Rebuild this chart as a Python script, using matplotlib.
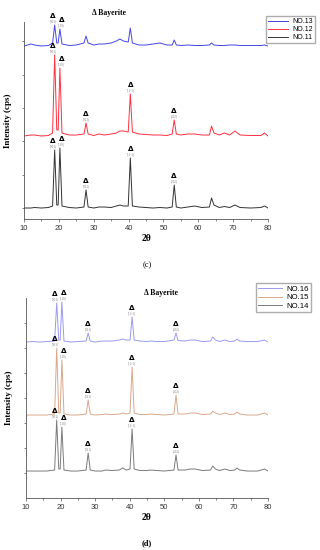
import numpy as np
import matplotlib.pyplot as plt

# --- panel (c) data: 2theta grid and intensities above each trace's own baseline ---
tt_c = [10, 12, 13, 15, 17, 18.2, 18.8, 19.4, 19.8, 20.3, 20.9, 23, 25, 27.2, 27.8, 28.4,
        30, 31.5, 33, 35, 36.5, 37.5, 38.5, 39.9, 40.5, 41.1, 43, 45, 47, 49, 51, 52.5,
        53.1, 53.7, 55, 57, 59, 61, 63.2, 63.8, 64.5, 66, 67.5, 69, 70.5, 72, 75, 78, 79, 80]
no11 = [0, 0, 15, 0, 15, 60, 1740, 90, 90, 1800, 60, 15, 0, 30, 540, 30, 0, 30, 30, 15,
        60, 90, 60, 60, 1500, 60, 30, 15, 0, 15, 0, 30, 690, 30, 0, 30, 60, 15, 30, 300,
        90, 15, 45, 15, 90, 15, 0, 15, 60, 0]
no12 = [0, 30, 30, 0, 15, 90, 2430, 180, 180, 2040, 90, 30, 30, 60, 390, 60, 15, 60, 30, 60,
        90, 150, 150, 120, 1260, 120, 60, 45, 30, 30, 15, 60, 480, 60, 30, 60, 60, 30, 30, 300,
        90, 30, 90, 30, 150, 30, 15, 15, 90, 0]
no13 = [0, 60, 30, 0, 15, 90, 630, 90, 90, 510, 60, 15, 30, 90, 300, 90, 30, 60, 60, 90,
        150, 210, 150, 120, 540, 90, 30, 30, 60, 90, 30, 30, 180, 30, 15, 30, 15, 15, 30, 90,
        30, 15, 15, 30, 30, 15, 15, 15, 30, 0]
base_c = {"NO.13": 4860, "NO.12": 2160, "NO.11": 0}

# --- panel (d) data ---
tt_d = [10, 12, 14, 16, 18.3, 18.9, 19.5, 19.9, 20.4, 21.0, 23, 25, 27.4, 28.0, 28.6, 30,
        32, 33, 35, 37, 38, 39, 40.1, 40.7, 41.3, 43, 45, 46, 48, 50, 52.8, 53.4, 54.0,
        56, 57.5, 59, 61, 63.4, 64.0, 64.8, 66, 67.5, 69, 70.4, 71.0, 71.8, 74, 77, 79, 80]
no14 = [0, 0, 0, 0, 40, 2040, 80, 80, 1760, 40, 0, 0, 40, 720, 40, 0, 0, 40, 20, 40,
        120, 40, 80, 1680, 80, 20, 20, 40, 20, 0, 40, 640, 40, 40, 80, 80, 20, 40, 200, 80,
        20, 80, 20, 40, 120, 40, 0, 0, 80, 0]
no15 = [0, 0, 0, 0, 40, 2680, 80, 80, 2200, 40, 0, 0, 40, 600, 40, 0, 20, 40, 20, 40,
        80, 40, 80, 1920, 80, 20, 20, 40, 20, 0, 40, 800, 40, 40, 80, 80, 20, 40, 160, 80,
        20, 80, 20, 40, 120, 40, 0, 0, 80, 0]
no16 = [0, 20, 0, 20, 40, 1560, 80, 80, 1600, 40, 0, 20, 40, 360, 40, 0, 40, 40, 40, 80,
        120, 80, 80, 1000, 80, 40, 20, 40, 20, 20, 80, 360, 60, 40, 80, 80, 20, 40, 200, 80,
        20, 80, 20, 40, 120, 40, 20, 20, 80, 0]
base_d = {"NO.16": 6240, "NO.15": 3320, "NO.14": 1080}

hkl = ["(001)", "(110)", "(021)", "(11-1)", "(202)"]
peaks_c = [18.8, 20.3, 27.8, 40.5, 53.1]
peaks_d = [18.9, 20.4, 28.0, 40.7, 53.4]

serif = "Liberation Serif"
sans = "Liberation Sans"

fig = plt.figure(figsize=(3.2, 5.5), dpi=100)
ax_c = fig.add_axes([0.075, 0.6018, 0.7625, 0.3582])
ax_d = fig.add_axes([0.081, 0.0945, 0.7565, 0.3636])

# small sideways nudges so the two close peaks' marks don't collide
nudge = [-1.2, 1.2, 0, 0, 0]


def mark_peaks(ax, tt, vals, base, peaks, n):
    for i, (p, lab) in enumerate(list(zip(peaks, hkl))[:n]):
        y = base + vals[tt.index(p)]
        ax.annotate(lab, (p, y), xytext=(nudge[i], 1.5), textcoords="offset points",
                    ha="center", va="bottom", fontsize=2.3, color="#777777",
                    family=serif)
        ax.annotate("Δ", (p, y), xytext=(nudge[i], 4.3), textcoords="offset points",
                    ha="center", va="bottom", fontsize=5.2, fontweight="bold",
                    color="black", family="DejaVu Sans")


def style(ax, ylim, yticks):
    ax.set_xlim(10, 80)
    ax.set_ylim(*ylim)
    ax.set_yticks(yticks)
    ax.set_yticklabels([])
    ax.set_xticks(range(10, 81, 10))
    ax.set_xticks(range(15, 80, 10), minor=True)
    for s in ["top", "right"]:
        ax.spines[s].set_visible(False)
    for s in ["left", "bottom"]:
        ax.spines[s].set_color("#555555")
        ax.spines[s].set_linewidth(0.6)
    ax.tick_params(axis="both", which="both", direction="out", width=0.5, color="#555555")
    ax.tick_params(axis="x", which="major", length=2.5, labelsize=5.5, pad=1.5)
    ax.tick_params(axis="x", which="minor", length=1.5)
    ax.tick_params(axis="y", length=1.5)
    for t in ax.get_xticklabels():
        t.set_family(sans)
        t.set_color("#333333")
    ax.set_xlabel("2θ", family=serif, fontweight="bold", fontsize=7, labelpad=2)


# panel (c)
series_c = [("NO.13", no13, "#4646e4"), ("NO.12", no12, "#ff3040"), ("NO.11", no11, "#333333")]
for name, vals, col in series_c:
    ax_c.plot(tt_c, np.array(vals) + base_c[name], color=col, lw=0.7, label=name)
mark_peaks(ax_c, tt_c, no13, base_c["NO.13"], peaks_c, 2)
mark_peaks(ax_c, tt_c, no12, base_c["NO.12"], peaks_c, 5)
mark_peaks(ax_c, tt_c, no11, base_c["NO.11"], peaks_c, 5)
style(ax_c, (-330, 5580), range(0, 5001, 1000))
ax_c.text(0.35, 1.045, "Δ Bayerite", transform=ax_c.transAxes, ha="center", va="center",
          fontsize=5.5, fontweight="bold", family=[serif, "DejaVu Sans"])
ax_c.legend(loc="upper left", bbox_to_anchor=(0.99, 1.03), frameon=True,
            fancybox=False, edgecolor="#999999", handlelength=3, borderpad=0.3,
            labelspacing=0.15, handletextpad=0.6, borderaxespad=0,
            prop={"family": sans, "size": 5})
ax_c.set_ylabel("Intensity (cps)", family=serif, fontweight="bold", fontsize=6.5, labelpad=4)
fig.text(0.46, 1 - 265 / 550, "(c)", ha="center", va="center", family=serif, fontsize=6)

# panel (d)
series_d = [("NO.16", no16, "#9a9af0"), ("NO.15", no15, "#d9a88c"), ("NO.14", no14, "#7a7a7a")]
for name, vals, col in series_d:
    ax_d.plot(tt_d, np.array(vals) + base_d[name], color=col, lw=0.7, label=name)
for name, vals, col in series_d:
    mark_peaks(ax_d, tt_d, vals, base_d[name], peaks_d, 5)
style(ax_d, (0, 8000), range(1000, 7001, 1000))
ax_d.text(0.56, 1.025, "Δ Bayerite", transform=ax_d.transAxes, ha="center", va="center",
          fontsize=5.5, fontweight="bold", family=[serif, "DejaVu Sans"])
ax_d.legend(loc="upper left", bbox_to_anchor=(0.95, 1.075), frameon=True,
            fancybox=False, edgecolor="#999999", handlelength=3, borderpad=0.3,
            labelspacing=0.15, handletextpad=0.6, borderaxespad=0,
            prop={"family": sans, "size": 5.6})
ax_d.set_ylabel("Intensity (cps)", family=serif, fontweight="bold", fontsize=6.5, labelpad=4)
fig.text(0.46, 1 - 543 / 550, "(d)", ha="center", va="center", family=serif,
         fontweight="bold", fontsize=6)

fig.savefig("out.png", dpi=100)
